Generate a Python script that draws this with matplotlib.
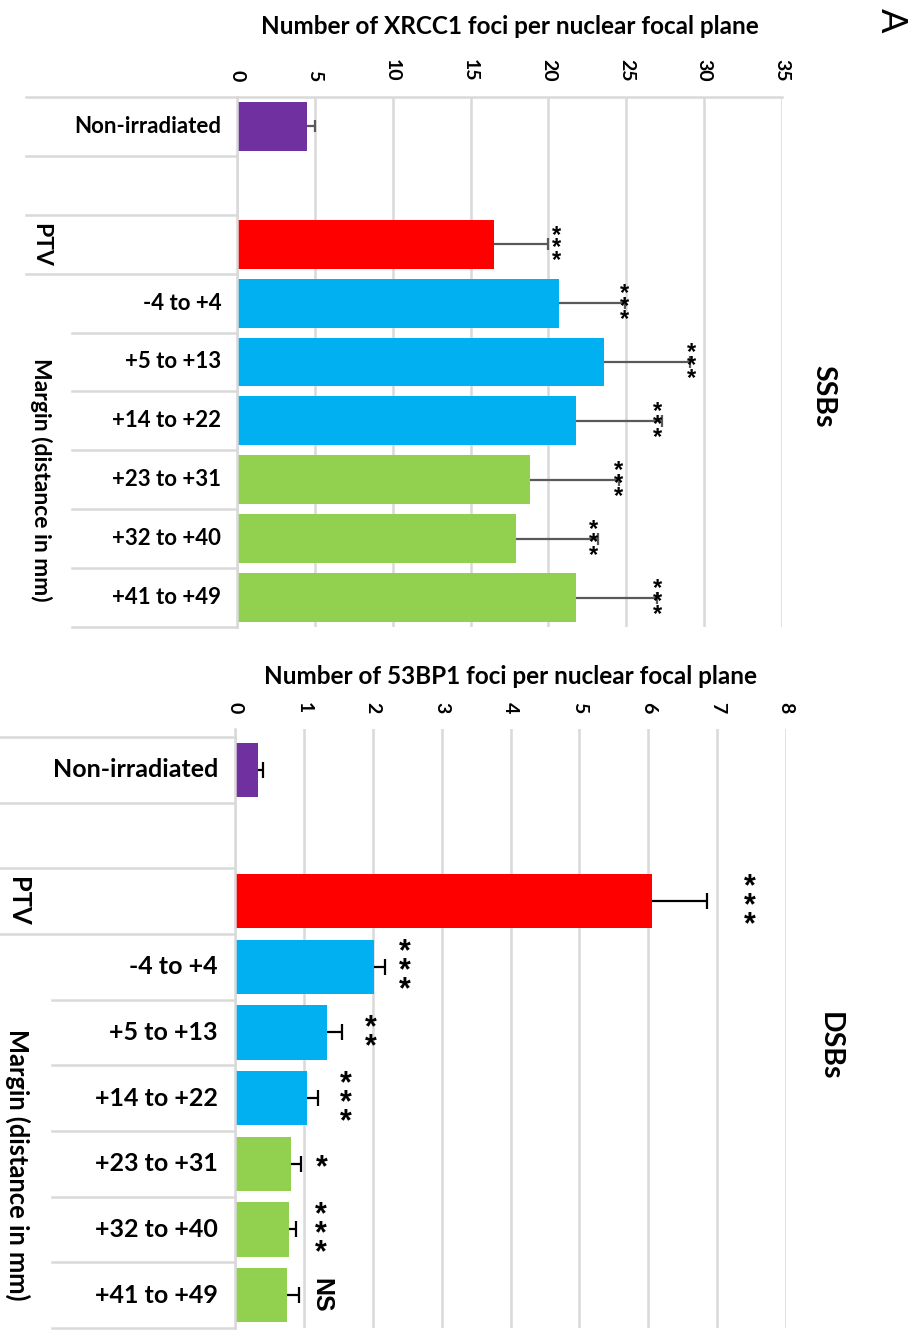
import numpy as np
import matplotlib.pyplot as plt
import matplotlib.transforms as mtransforms

plt.rcParams['font.family'] = ['Lato', 'DejaVu Sans']
plt.rcParams['font.weight'] = 'bold'

# categories (top to bottom), the second slot is an empty spacer row
labels = ['Non-irradiated', '', 'PTV', '-4 to +4', '+5 to +13', '+14 to +22',
          '+23 to +31', '+32 to +40', '+41 to +49']
colors = ['#7030A0', 'none', '#FF0000', '#00B0F0', '#00B0F0', '#00B0F0',
          '#92D050', '#92D050', '#92D050']

# SSBs: XRCC1 foci
ssb_val = [4.5, np.nan, 16.5, 20.7, 23.6, 21.8, 18.8, 17.9, 21.8]
ssb_err = [0.5, np.nan, 3.5, 4.2, 5.5, 5.5, 5.7, 5.3, 5.2]
ssb_sig = ['', '', '***', '***', '***', '***', '***', '***', '***']
ssb_sig_x = [0, 0, 20.5, 24.9, 29.2, 27.0, 24.5, 22.9, 27.0]

# DSBs: 53BP1 foci
dsb_val = [0.34, np.nan, 6.06, 2.02, 1.33, 1.04, 0.81, 0.78, 0.75]
dsb_err = [0.07, np.nan, 0.79, 0.16, 0.22, 0.16, 0.15, 0.10, 0.18]
dsb_sig = ['', '', '***', '***', '**', '***', '*', '***', 'NS']
dsb_sig_x = [0, 0, 7.47, 2.47, 1.97, 1.61, 1.26, 1.24, 1.26]

W, H = 917, 1337
fig = plt.figure(figsize=(W / 100, H / 100), dpi=100)
GRID = '#d9d9d9'


def px_axes(x0, y0, x1, y1):
    return fig.add_axes([x0 / W, 1 - y1 / H, (x1 - x0) / W, (y1 - y0) / H])


def draw(ax, vals, errs, sig, sig_x, xmax, step, ecol, capms, star_size,
         star_gap, ns_size, outer_x, inner_x, lab_x, lab_size, ytop):
    y = np.arange(len(labels))
    v = np.nan_to_num(np.array(vals, dtype=float))
    e = np.array(errs, dtype=float)
    ax.barh(y, v, height=0.83, color=colors, zorder=2)
    ok = ~np.isnan(e)
    ax.hlines(y[ok], v[ok], v[ok] + e[ok], color=ecol, lw=1.6, zorder=3)
    ax.plot(v[ok] + e[ok], y[ok], ls='none', marker='|', ms=capms, mew=1.6,
            color=ecol, zorder=3)
    # asterisks sit high in the line box, pull the stack down a bit
    star_tr = mtransforms.offset_copy(ax.transData, fig=fig, x=0,
                                      y=-0.16 * star_size, units='points')
    for yi, s, sx in zip(y, sig, sig_x):
        if not s:
            continue
        if '*' in s:
            ax.text(sx, yi, '\n'.join(s), ha='center', va='center',
                    multialignment='center', fontsize=star_size,
                    linespacing=star_gap / (1.1 * star_size),
                    fontweight='bold', family='Liberation Sans',
                    transform=star_tr)
        else:
            ax.text(sx, yi, s, rotation=-90, ha='center', va='center',
                    fontsize=ns_size, fontweight='bold',
                    family='Liberation Sans')
    ax.set_xlim(0, xmax)
    ax.set_ylim(len(labels) - 0.5, ytop)
    ax.set_xticks(np.arange(0, xmax + 0.1, step))
    ax.xaxis.tick_top()
    ax.tick_params(axis='x', length=0, pad=11, labelsize=14, labelrotation=-90)
    for t in ax.get_xticklabels():
        t.set_fontweight('bold')
    ax.set_yticks([])
    ax.grid(axis='x', color=GRID, lw=1.8, zorder=0)
    for sp in ['right', 'bottom', 'top']:
        ax.spines[sp].set_visible(False)
    ax.spines['left'].set_color(GRID)
    ax.spines['left'].set_linewidth(1.8)
    tr = mtransforms.blended_transform_factory(ax.transAxes, ax.transData)
    # row separators of the two-level category axis
    for k in range(len(labels) + 1):
        b = k - 0.5
        x0 = outer_x if k <= 3 else inner_x
        ax.plot([x0, 0], [b, b], color=GRID, lw=1.8, transform=tr,
                clip_on=False, zorder=1)
    for yi, lab in enumerate(labels):
        if lab and lab != 'PTV':
            ax.text(lab_x, yi, lab, transform=tr, ha='right', va='center',
                    fontsize=lab_size, fontweight='bold')
    return tr


# top panel: SSBs
ax1 = px_axes(237, 97, 782, 627)
tr1 = draw(ax1, ssb_val, ssb_err, ssb_sig, ssb_sig_x, 35, 5, '#595959', 8,
           17, 8.2, 15, -0.387, -0.303, -0.029, 16, -0.5)
ax1.plot([0, 1], [-0.5, -0.5], color=GRID, lw=1.8, transform=tr1,
         clip_on=False, zorder=1)
fig.text(510 / W, 1 - 27 / H, 'Number of XRCC1 foci per nuclear focal plane',
         ha='center', va='center', fontsize=17.5, fontweight='bold')
fig.text(41 / W, 1 - 245 / H, 'PTV', rotation=-90, ha='center', va='center',
         fontsize=16.5, fontweight='bold')
fig.text(41 / W, 1 - 480 / H, 'Margin (distance in mm)', rotation=-90,
         ha='center', va='center', fontsize=16.5, fontweight='bold')
fig.text(823 / W, 1 - 396 / H, 'SSBs', rotation=-90, ha='center', va='center',
         fontsize=20.5, fontweight='bold')

# bottom panel: DSBs
ax2 = px_axes(235, 729, 786, 1328)
draw(ax2, dsb_val, dsb_err, dsb_sig, dsb_sig_x, 8, 1, 'black', 11,
     22, 12.6, 18, -0.427, -0.333, -0.031, 18, -0.5 - 8 / 65.7)
fig.text(510 / W, 1 - 676 / H, 'Number of 53BP1 foci per nuclear focal plane',
         ha='center', va='center', fontsize=17.5, fontweight='bold')
fig.text(18 / W, 1 - 901 / H, 'PTV', rotation=-90, ha='center', va='center',
         fontsize=18.4, fontweight='bold')
fig.text(18 / W, 1 - 1165 / H, 'Margin (distance in mm)', rotation=-90,
         ha='center', va='center', fontsize=18.4, fontweight='bold')
fig.text(830 / W, 1 - 1046 / H, 'DSBs', rotation=-90, ha='center', va='center',
         fontsize=20.5, fontweight='bold')

# panel letters (the second one is cut by the right edge, as in the source)
fig.text(891 / W, 1 - 20 / H, 'A', rotation=-90, ha='center', va='center',
         fontsize=26, fontweight='normal')
fig.text(928 / W, 1 - 1262 / H, 'C', rotation=-90, ha='center', va='center',
         fontsize=26, fontweight='normal')

fig.savefig('out.png', dpi=100)
